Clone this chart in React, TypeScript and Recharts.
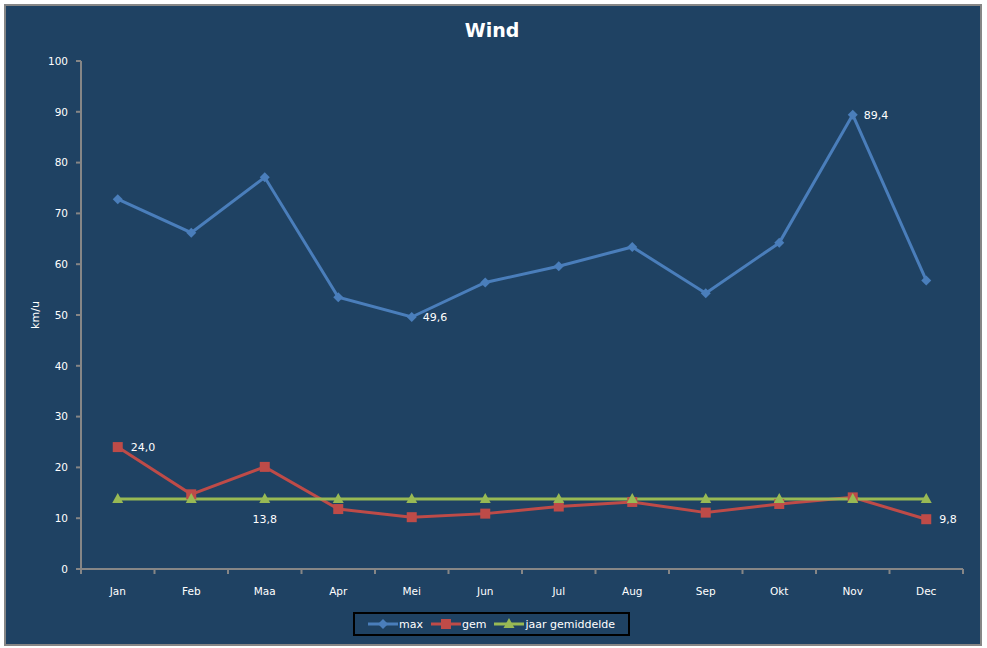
import React from 'react';
import { ComposedChart, Line, XAxis, YAxis, LabelList } from 'recharts';

const months = ['Jan', 'Feb', 'Maa', 'Apr', 'Mei', 'Jun', 'Jul', 'Aug', 'Sep', 'Okt', 'Nov', 'Dec'];
const maxValues = [72.8, 66.2, 77.1, 53.5, 49.6, 56.4, 59.6, 63.4, 54.3, 64.2, 89.4, 56.8];
const gemValues = [24.0, 14.7, 20.1, 11.8, 10.2, 10.9, 12.3, 13.2, 11.1, 12.8, 14.1, 9.8];
const jaarValues = [13.8, 13.8, 13.8, 13.8, 13.8, 13.8, 13.8, 13.8, 13.8, 13.8, 13.8, 13.8];
const yTicks = [0, 10, 20, 30, 40, 50, 60, 70, 80, 90, 100];
const maxLabelIdx = [4, 10];
const gemLabelIdx = [0, 11];
const jaarLabelIdx = [2];

const data = months.map((m, i) => ({ month: m, max: maxValues[i], gem: gemValues[i], jaar: jaarValues[i] }));

const BG = '#1F4263';
const BLUE = '#4A7EBB';
const RED = '#BE4B48';
const GREEN = '#98B954';
const AXIS = '#868686';
const FONT = '"DejaVu Sans", Verdana, sans-serif';

const fmt = (v: number) => v.toFixed(1).replace('.', ',');

const Diamond = (p: any) => {
  const { cx, cy, index } = p;
  if (cx == null || cy == null) return <g key={index} />;
  const r = 5;
  return <polygon key={index} points={`${cx},${cy - r} ${cx + r},${cy} ${cx},${cy + r} ${cx - r},${cy}`} fill={BLUE} />;
};
const Square = (p: any) => {
  const { cx, cy, index } = p;
  if (cx == null || cy == null) return <g key={index} />;
  const s = 5;
  return <rect key={index} x={cx - s} y={cy - s} width={2 * s} height={2 * s} fill={RED} />;
};
const Triangle = (p: any) => {
  const { cx, cy, index } = p;
  if (cx == null || cy == null) return <g key={index} />;
  return <polygon key={index} points={`${cx},${cy - 6} ${cx + 5.5},${cy + 4} ${cx - 5.5},${cy + 4}`} fill={GREEN} />;
};

const makeLabel = (idx: number[], dx: number, dy: number, anchor: string) => (props: any) => {
  const { x, y, value, index } = props;
  if (!idx.includes(index)) return null;
  return (
    <text key={index} x={x + dx} y={y + dy} fill="#ffffff" fontSize={11} fontFamily={FONT} textAnchor={anchor}>
      {fmt(value)}
    </text>
  );
};

const MonthTick = (props: any) => {
  const { x, y, payload, index, width, visibleTicksCount } = props;
  const count = visibleTicksCount || months.length;
  const half = payload && payload.offset ? payload.offset : width / count / 2;
  const left = x - half;
  const right = x + half;
  return (
    <g>
      <line x1={left} y1={y} x2={left} y2={y + 5} stroke={AXIS} strokeWidth={2} />
      {index === count - 1 && <line x1={right} y1={y} x2={right} y2={y + 5} stroke={AXIS} strokeWidth={2} />}
      <text x={x} y={y + 26} textAnchor="middle" fill="#ffffff" fontSize={10.5} fontFamily={FONT}>
        {payload.value}
      </text>
    </g>
  );
};

const LegendIcon = ({ color, kind }: { color: string; kind: string }) => (
  <svg width={30} height={12} style={{ verticalAlign: 'middle' }}>
    <line x1={0} y1={6} x2={30} y2={6} stroke={color} strokeWidth={3} />
    {kind === 'diamond' && <polygon points="15,1 20,6 15,11 10,6" fill={color} />}
    {kind === 'square' && <rect x={10} y={1} width={10} height={10} fill={color} />}
    {kind === 'triangle' && <polygon points="15,0 20.5,10 9.5,10" fill={color} />}
  </svg>
);

export default function App() {
  return (
    <div style={{ position: 'absolute', left: 0, top: 0, width: 987, height: 648, background: '#ffffff', fontFamily: FONT }}>
      <div
        style={{
          position: 'absolute', left: 4, top: 4, width: 978, height: 642,
          border: `2px solid ${AXIS}`, boxSizing: 'border-box', background: BG,
        }}
      />
      <div
        style={{
          position: 'absolute', left: 0, top: 19, width: 984, textAlign: 'center',
          color: '#ffffff', fontWeight: 'bold', fontSize: 19, fontFamily: FONT,
        }}
      >
        Wind
      </div>
      <div style={{ position: 'absolute', left: 0, top: 0 }}>
        <ComposedChart width={987} height={648} data={data} margin={{ top: 61, right: 24, left: 31, bottom: 49 }}>
          <XAxis
            dataKey="month"
            scale="band"
            height={30}
            axisLine={{ stroke: AXIS, strokeWidth: 2 }}
            tickLine={false}
            tickSize={0}
            tickMargin={0}
            tick={<MonthTick />}
            interval={0}
          />
          <YAxis
            width={50}
            domain={[0, 100]}
            ticks={yTicks}
            axisLine={{ stroke: AXIS, strokeWidth: 2 }}
            tickLine={{ stroke: AXIS, strokeWidth: 2 }}
            tickSize={5}
            tickMargin={8}
            tick={{ fill: '#ffffff', fontSize: 10.5, fontFamily: FONT }}
            interval={0}
            label={{
              content: () => (
                <text x={36} y={315} transform="rotate(-90 36 315)" textAnchor="middle" dominantBaseline="middle" fill="#ffffff" fontSize={11} fontFamily={FONT}>
                  km/u
                </text>
              ),
            }}
          />
          <Line dataKey="max" stroke={BLUE} strokeWidth={3} dot={Diamond} activeDot={false} isAnimationActive={false}>
            <LabelList dataKey="max" content={makeLabel(maxLabelIdx, 11, 4, 'start')} />
          </Line>
          <Line dataKey="gem" stroke={RED} strokeWidth={3} dot={Square} activeDot={false} isAnimationActive={false}>
            <LabelList dataKey="gem" content={makeLabel(gemLabelIdx, 13, 4, 'start')} />
          </Line>
          <Line dataKey="jaar" stroke={GREEN} strokeWidth={3} dot={Triangle} activeDot={false} isAnimationActive={false}>
            <LabelList dataKey="jaar" content={makeLabel(jaarLabelIdx, 0, 24, 'middle')} />
          </Line>
        </ComposedChart>
      </div>
      <div
        style={{
          position: 'absolute', left: 353, top: 612, width: 277, height: 24,
          border: '2px solid #000000', boxSizing: 'border-box',
          display: 'flex', alignItems: 'center', justifyContent: 'center',
          color: '#ffffff', fontSize: 11, fontFamily: FONT, whiteSpace: 'nowrap',
        }}
      >
        <LegendIcon color={BLUE} kind="diamond" />
        <span style={{ marginLeft: 1, marginRight: 8 }}>max</span>
        <LegendIcon color={RED} kind="square" />
        <span style={{ marginLeft: 1, marginRight: 8 }}>gem</span>
        <LegendIcon color={GREEN} kind="triangle" />
        <span style={{ marginLeft: 1 }}>jaar gemiddelde</span>
      </div>
    </div>
  );
}
